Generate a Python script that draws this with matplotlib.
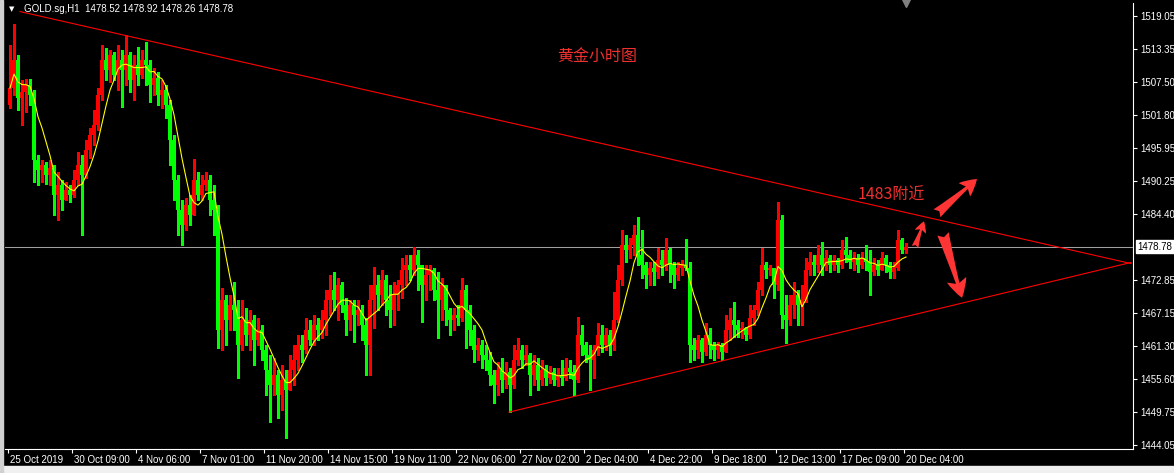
import numpy as np
import pandas as pd
import matplotlib
matplotlib.use('Agg')
import matplotlib.pyplot as plt
from matplotlib.patches import Rectangle
from matplotlib import transforms

# 4-hour candles (GOLD.sg), 25 Oct - 20 Dec 2019
first_open = 1503.5
closes = [
    1506.5, 1511.4, 1504.8, 1505.8, 1507.0, 1505.3, 1493.9, 1492.2, 1493.0, 1491.3,
    1492.5, 1487.8, 1489.5, 1486.9, 1488.7, 1487.8, 1490.4, 1493.0, 1491.3, 1495.7,
    1498.3, 1500.0, 1505.3, 1511.4, 1509.7, 1512.3, 1508.8, 1511.4, 1509.7, 1512.3,
    1507.9, 1510.5, 1508.8, 1511.4, 1510.5, 1507.0, 1508.3, 1505.3, 1506.2, 1503.5,
    1497.4, 1490.4, 1485.2, 1482.5, 1486.0, 1484.3, 1490.4, 1487.8, 1489.5, 1490.4,
    1486.9, 1485.2, 1464.2, 1469.4, 1465.9, 1468.5, 1467.7, 1461.5, 1465.9, 1463.3,
    1465.9, 1462.4, 1464.2, 1460.7, 1457.2, 1454.5, 1456.3, 1452.8, 1455.4, 1453.7,
    1457.2, 1458.9, 1461.5, 1460.7, 1464.2, 1462.4, 1465.0, 1464.2, 1465.9, 1469.4,
    1471.2, 1469.4, 1472.0, 1468.5, 1465.9, 1468.5, 1466.8, 1467.7, 1465.0, 1461.5,
    1469.4, 1472.0, 1470.3, 1472.9, 1469.4, 1467.7, 1470.3, 1472.0, 1474.7, 1475.5,
    1474.7, 1477.3, 1475.5, 1472.0, 1473.8, 1474.7, 1471.2, 1469.4, 1472.0, 1467.7,
    1465.9, 1466.8, 1466.3, 1471.2, 1467.7, 1464.2, 1460.7, 1461.5, 1459.8, 1458.9,
    1456.3, 1454.5, 1457.2, 1455.4, 1456.8, 1454.5, 1458.9, 1460.7, 1458.9, 1459.8,
    1456.3, 1458.0, 1455.4, 1457.2, 1455.8, 1456.8, 1455.4, 1456.3, 1455.8, 1457.5,
    1456.8, 1455.4, 1463.3, 1461.5, 1459.8, 1458.9, 1460.7, 1463.3, 1461.5, 1463.3,
    1461.5, 1465.9, 1472.9, 1479.0, 1478.2, 1479.0, 1480.8, 1477.3, 1475.5, 1473.8,
    1475.0, 1474.3, 1476.4, 1475.5, 1478.2, 1475.5, 1473.8, 1475.0, 1475.5, 1475.0,
    1461.5, 1460.7, 1462.4, 1460.3, 1463.3, 1461.5, 1460.7, 1461.5, 1460.3, 1464.2,
    1465.9, 1465.0, 1464.2, 1464.5, 1463.3, 1466.3, 1467.7, 1471.2, 1475.5, 1474.7,
    1475.0, 1472.0, 1483.4, 1466.8, 1465.9, 1468.5, 1470.3, 1468.5, 1469.4, 1474.7,
    1476.1, 1475.5, 1477.3, 1475.5, 1476.8, 1475.5, 1476.4, 1475.5, 1478.2, 1477.3,
    1476.1, 1476.8, 1475.5, 1476.8, 1476.1, 1474.3, 1475.5, 1474.7, 1476.8, 1475.5,
    1474.3, 1475.0, 1479.9, 1478.2, 1478.78,
]
highs = [
    1514.0, 1517.7, 1512.3, 1507.9, 1508.1, 1508.1, 1506.2, 1494.8, 1493.9, 1493.6,
    1493.9, 1493.0, 1491.8, 1490.4, 1490.1, 1489.5, 1492.2, 1495.3, 1494.8, 1497.4,
    1499.5, 1502.7, 1506.5, 1514.0, 1513.5, 1513.2, 1512.8, 1514.0, 1513.2, 1515.8,
    1512.8, 1512.3, 1513.7, 1513.2, 1514.6, 1511.4, 1510.0, 1509.3, 1507.9, 1507.0,
    1504.4, 1498.3, 1491.3, 1486.9, 1487.3, 1487.8, 1494.1, 1491.8, 1491.3, 1491.8,
    1491.3, 1489.5, 1486.0, 1471.5, 1470.3, 1470.3, 1472.6, 1469.4, 1469.4, 1468.0,
    1467.7, 1466.8, 1466.3, 1465.0, 1461.5, 1459.8, 1459.3, 1457.2, 1458.0, 1457.2,
    1459.8, 1461.5, 1463.3, 1463.3, 1466.3, 1465.9, 1466.8, 1466.3, 1467.7, 1471.2,
    1473.8, 1474.3, 1473.3, 1472.6, 1469.8, 1469.4, 1469.4, 1469.4, 1468.5, 1466.3,
    1472.0, 1475.2, 1473.8, 1474.7, 1473.8, 1472.0, 1472.6, 1472.9, 1476.8, 1477.3,
    1477.3, 1478.7, 1478.2, 1475.5, 1475.5, 1475.5, 1475.0, 1474.3, 1473.3, 1472.0,
    1468.0, 1468.0, 1468.5, 1473.3, 1472.0, 1468.5, 1465.0, 1462.8, 1462.4, 1461.5,
    1460.3, 1457.2, 1458.6, 1459.3, 1458.6, 1457.5, 1461.5, 1462.8, 1461.5, 1461.5,
    1460.1, 1459.8, 1459.3, 1458.9, 1458.0, 1457.9, 1457.5, 1457.5, 1458.9, 1459.3,
    1458.9, 1458.0, 1466.4, 1465.0, 1462.1, 1461.5, 1461.5, 1465.4, 1465.0, 1464.5,
    1464.2, 1470.8, 1475.5, 1481.7, 1480.8, 1480.3, 1482.5, 1483.9, 1481.7, 1476.1,
    1476.1, 1476.1, 1478.5, 1478.2, 1480.3, 1478.5, 1476.1, 1476.1, 1476.4, 1480.1,
    1476.1, 1462.8, 1463.3, 1462.8, 1465.4, 1464.5, 1462.1, 1462.1, 1461.9, 1466.8,
    1468.0, 1469.1, 1465.9, 1465.6, 1464.7, 1468.5, 1468.5, 1472.6, 1478.5, 1476.1,
    1475.5, 1475.0, 1486.6, 1484.3, 1470.3, 1470.3, 1472.6, 1471.2, 1472.0, 1476.8,
    1477.8, 1477.3, 1479.0, 1479.6, 1478.2, 1477.3, 1477.3, 1476.8, 1479.9, 1480.4,
    1478.2, 1477.8, 1477.5, 1477.8, 1479.0, 1478.2, 1476.8, 1476.4, 1477.8, 1477.3,
    1476.1, 1476.1, 1481.7, 1480.3, 1479.4,
]
lows = [
    1503.0, 1505.3, 1502.7, 1500.0, 1502.3, 1503.5, 1490.1, 1489.5, 1490.1, 1489.7,
    1489.5, 1484.3, 1483.4, 1485.2, 1486.9, 1486.6, 1487.4, 1489.5, 1480.8, 1490.8,
    1494.3, 1496.5, 1499.2, 1504.4, 1507.9, 1507.6, 1507.9, 1506.2, 1503.2, 1507.0,
    1505.8, 1504.4, 1507.0, 1508.3, 1507.0, 1504.1, 1505.3, 1503.5, 1503.0, 1501.3,
    1493.0, 1486.9, 1480.8, 1479.0, 1481.7, 1482.5, 1484.3, 1486.9, 1486.9, 1488.7,
    1484.3, 1480.8, 1461.0, 1460.7, 1461.5, 1464.2, 1464.2, 1455.8, 1460.7, 1461.5,
    1460.7, 1458.0, 1461.5, 1458.9, 1452.8, 1448.1, 1452.8, 1448.8, 1450.2, 1445.3,
    1453.7, 1454.5, 1457.2, 1458.6, 1460.2, 1461.5, 1461.5, 1462.4, 1462.8, 1463.3,
    1466.8, 1467.7, 1465.9, 1467.3, 1463.3, 1464.2, 1462.1, 1465.0, 1462.4, 1456.3,
    1456.3, 1464.5, 1467.7, 1468.5, 1466.8, 1464.7, 1465.0, 1467.7, 1469.8, 1472.0,
    1472.9, 1473.8, 1471.2, 1465.6, 1469.4, 1471.2, 1469.4, 1462.8, 1465.9, 1465.0,
    1463.3, 1464.2, 1465.0, 1465.8, 1461.0, 1461.5, 1458.6, 1458.9, 1457.5, 1457.2,
    1454.5, 1451.4, 1452.8, 1453.3, 1454.0, 1449.8, 1454.0, 1458.0, 1457.5, 1458.0,
    1452.8, 1454.5, 1453.7, 1454.5, 1454.5, 1454.9, 1454.5, 1454.4, 1454.5, 1455.4,
    1455.8, 1452.8, 1455.1, 1459.8, 1458.6, 1453.7, 1455.8, 1459.8, 1460.3, 1460.7,
    1459.8, 1460.7, 1465.6, 1472.0, 1476.1, 1476.8, 1477.3, 1475.5, 1473.3, 1471.5,
    1472.0, 1472.0, 1473.3, 1473.8, 1474.7, 1472.6, 1471.5, 1472.9, 1473.8, 1474.7,
    1458.6, 1458.9, 1459.3, 1458.6, 1459.8, 1459.3, 1458.9, 1459.3, 1458.9, 1460.3,
    1462.4, 1463.0, 1463.0, 1462.8, 1462.4, 1462.8, 1465.0, 1466.8, 1470.3, 1473.3,
    1473.8, 1469.8, 1471.2, 1464.5, 1461.9, 1465.0, 1466.3, 1465.0, 1465.0, 1469.1,
    1473.8, 1473.8, 1474.3, 1473.8, 1474.7, 1474.3, 1474.7, 1474.3, 1475.0, 1476.1,
    1475.0, 1474.7, 1474.3, 1475.0, 1474.7, 1470.3, 1473.8, 1473.8, 1474.7, 1474.3,
    1473.3, 1473.3, 1474.6, 1477.6, 1477.6,
]

# axis labels
price_ticks = [1519.05, 1513.35, 1507.50, 1501.80, 1495.95, 1490.25, 1484.40,
               1472.85, 1467.15, 1461.30, 1455.60, 1449.75, 1444.05]
last_price = 1478.78
time_labels = ['25 Oct 2019', '30 Oct 09:00', '4 Nov 06:00', '7 Nov 01:00',
               '11 Nov 20:00', '14 Nov 15:00', '19 Nov 11:00', '22 Nov 06:00',
               '27 Nov 02:00', '2 Dec 04:00', '4 Dec 22:00', '9 Dec 18:00',
               '12 Dec 13:00', '17 Dec 09:00', '20 Dec 04:00']
time_tick_bars = [16 * k - 0.5 for k in range(len(time_labels))]
header = 'GOLD.sg,H1  1478.52 1478.92 1478.26 1478.78'

# drawn objects (bar index, price)
upper_line = ([2.5, 280.25], [1519.9, 1475.8])
lower_line = ([124.75, 280.25], [1449.8, 1476.0])
arrows = [((226.25, 1478.7), (228.5, 1483.2), 10),
          ((231.75, 1484.6), (241.75, 1490.6), 15),
          ((233.25, 1481.0), (238.0, 1469.8), 17)]
title_cn = ('黄金小时图', 146.75, 1512.1)
note_cn = ('1483附近', 220.25, 1487.8)

ma_period = 6

# ---- build candles ----
o = np.array([first_open] + closes[:-1])
c = np.array(closes)
h = np.maximum.reduce([np.array(highs), o, c])
l = np.minimum.reduce([np.array(lows), o, c])
x = np.arange(len(c))
cols = np.where(c >= o, '#ff0000', '#00ff00')
ma = pd.Series(closes).rolling(ma_period, min_periods=1).mean()

fig = plt.figure(figsize=(11.74, 4.73), dpi=100, facecolor='black')
ax = fig.add_axes([5 / 1174, 24 / 473, 1128 / 1174, 446 / 473])
ax.set_facecolor('black')
ax.set_xlim(-1.25, 280.75)
ax.set_ylim(1443.35, 1521.4)

ax.axhline(last_price, color='#a0a0a0', lw=0.75, zorder=1)

ax.vlines(x, l, h, colors=cols, lw=1.0, zorder=2, antialiased=False)
body = np.maximum(np.abs(c - o), 0.2)
ax.bar(x, body, bottom=np.minimum(o, c), width=0.9, color=cols, linewidth=0,
       zorder=2, antialiased=False)
ax.plot(x, ma, color='#ffff00', lw=0.8, zorder=3)

ax.plot(*upper_line, color='#ff0000', lw=0.8, zorder=4)
ax.plot(*lower_line, color='#ff0000', lw=0.8, zorder=4)

for tail, head, ms in arrows:
    ax.annotate('', xy=head, xytext=tail,
                arrowprops=dict(arrowstyle='fancy,head_length=0.8,head_width=0.85,tail_width=0.5',
                                color='#ff3535', mutation_scale=ms, shrinkA=0, shrinkB=0, lw=0))

ax.text(title_cn[1], title_cn[2], title_cn[0], color='#f03030', fontsize=11.5,
        family=['Noto Sans CJK SC', 'DejaVu Sans'], ha='center', va='center')
ax.text(note_cn[1], note_cn[2], note_cn[0], color='#f03030', fontsize=11.5,
        family=['Noto Sans CJK SC', 'DejaVu Sans'], ha='center', va='center')

# ---- axes styling ----
for s in ['top', 'left']:
    ax.spines[s].set_visible(False)
for s in ['right', 'bottom']:
    ax.spines[s].set_color('white')
    ax.spines[s].set_linewidth(0.8)

ax.yaxis.tick_right()
ax.set_yticks(price_ticks)
ax.set_yticklabels(['%.2f' % p for p in price_ticks])
ax.tick_params(axis='y', colors='white', length=3, width=0.8, pad=2, labelsize=7)
ax.set_xticks(time_tick_bars)
ax.set_xticklabels(time_labels)
ax.tick_params(axis='x', colors='white', length=3, width=0.8, pad=1, labelsize=7)
shift = transforms.ScaledTranslation(2 / 100, 0, fig.dpi_scale_trans)
for lab in ax.get_xticklabels():
    lab.set_ha('left')
    lab.set_transform(lab.get_transform() + shift)
for lab in ax.get_xticklabels() + ax.get_yticklabels():
    lab.set_family('Liberation Sans')

ax.annotate('%.2f' % last_price, xy=(1, last_price), xycoords=('axes fraction', 'data'),
            xytext=(3, 0), textcoords='offset points', va='center', ha='left',
            fontsize=7, family='Liberation Sans', color='black',
            bbox=dict(boxstyle='square,pad=0.15', fc='white', ec='white'),
            annotation_clip=False)

# window chrome
fig.text(24 / 1174, 1 - 9 / 473, header, color='white', fontsize=7,
         family='Liberation Sans', va='center')
fig.text(9 / 1174, 1 - 9 / 473, '▼', color='white', fontsize=5, va='center')
ax.plot([224], [1.0], marker='v', color='#808080', markersize=6,
        transform=transforms.blended_transform_factory(ax.transData, ax.transAxes),
        clip_on=False)
fig.patches.append(Rectangle((0, 0), 1, 7 / 473, transform=fig.transFigure,
                             color='#f0f0f0', zorder=0))
fig.patches.append(Rectangle((0, 0), 3 / 1174, 1, transform=fig.transFigure,
                             color='#d0d0d0', zorder=0))

fig.savefig('out.png', dpi=100, facecolor='black')
